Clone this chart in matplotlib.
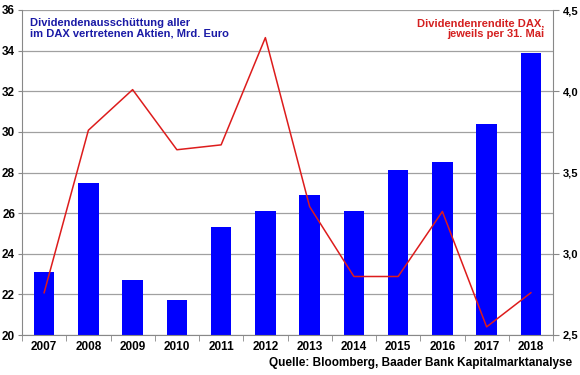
import matplotlib.pyplot as plt
import numpy as np

years = ['2007', '2008', '2009', '2010', '2011', '2012', '2013', '2014', '2015', '2016', '2017', '2018']
dividends = [23.1, 27.5, 22.7, 21.7, 25.3, 26.1, 26.9, 26.1, 28.1, 28.5, 30.4, 33.9]
yield_dax = [2.76, 3.76, 4.01, 3.64, 3.67, 4.33, 3.29, 2.86, 2.86, 3.26, 2.55, 2.76]

plt.rcParams['font.family'] = ['Liberation Sans', 'DejaVu Sans']
plt.rcParams['font.weight'] = 'bold'

fig = plt.figure(figsize=(5.8, 3.75), dpi=100)
ax = fig.add_axes([22/580, 1 - 335/375, (553 - 22)/580, (335 - 10)/375])
x = np.arange(len(years))

ax.bar(x, dividends, width=0.46, color='#0000ff', zorder=2)
ax.set_ylim(20, 36)
ax.set_yticks(range(20, 37, 2))
ax.set_xlim(-0.5, len(years) - 0.5)
ax.set_xticks(x)
ax.set_xticklabels(years)
ax.set_xticks(np.arange(-0.5, len(years)), minor=True)
ax.tick_params(axis='x', which='major', length=0, labelsize=8.5, pad=4)
ax.tick_params(axis='x', which='minor', length=4, color='#888888')
ax.tick_params(axis='y', labelsize=8.5, length=3, color='#888888', pad=2)
ax.grid(axis='y', color='#a0a0a0', linewidth=0.9, zorder=0)
for s in ['top', 'right']:
    ax.spines[s].set_visible(False)
for s in ['left', 'bottom']:
    ax.spines[s].set_color('#888888')

ax2 = ax.twinx()
ax2.plot(x, yield_dax, color='#dd1c1c', linewidth=1.1, zorder=3)
ax2.set_ylim(2.5, 4.5)
ax2.set_yticks([2.5, 3.0, 3.5, 4.0, 4.5])
ax2.set_yticklabels(['2,5', '3,0', '3,5', '4,0', '4,5'])
ax2.tick_params(axis='y', labelsize=8, length=4, color='#888888', pad=3)
for s in ['top', 'left', 'bottom']:
    ax2.spines[s].set_visible(False)
ax2.spines['right'].set_color('#888888')

fig.text(30/580, 1 - 18/375, 'Dividendenausschüttung aller\nim DAX vertretenen Aktien, Mrd. Euro',
         color='#1a1aa6', fontsize=8, fontweight='bold', va='top', ha='left', linespacing=1.1)
fig.text(544/580, 1 - 18/375, 'Dividendenrendite DAX,\njeweils per 31. Mai',
         color='#d42020', fontsize=8, fontweight='bold', va='top', ha='right', linespacing=1.1)
fig.text(572/580, 1 - 363/375, 'Quelle: Bloomberg, Baader Bank Kapitalmarktanalyse',
         color='black', fontsize=8.5, fontweight='bold', va='center', ha='right')

fig.savefig('out.png', dpi=100)
